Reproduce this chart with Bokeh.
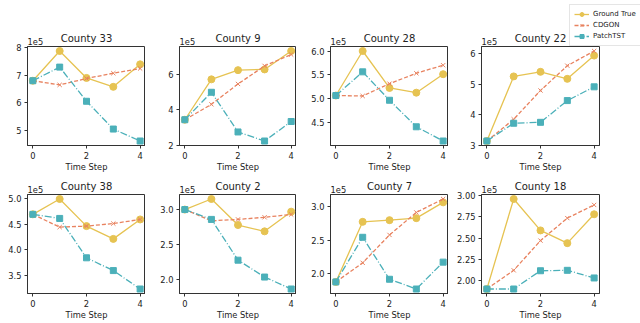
from bokeh.plotting import figure
from bokeh.layouts import gridplot
from bokeh.models import FixedTicker, Range1d, Title, Legend, LegendItem
from bokeh.embed import file_html
from bokeh.resources import INLINE

# ---------------- data ----------------
steps = [0, 1, 2, 3, 4]
counties = ["County 33", "County 9", "County 28", "County 22",
            "County 38", "County 2", "County 7", "County 18"]

gt_33 = [680000, 787000, 690000, 658000, 739000]
cd_33 = [680000, 665000, 688000, 707000, 724000]
pt_33 = [680000, 729000, 606000, 506000, 463000]

gt_9 = [345000, 573000, 625000, 629000, 733000]
cd_9 = [345000, 432000, 547000, 649000, 713000]
pt_9 = [345000, 500000, 276000, 225000, 335000]

gt_28 = [506000, 600000, 522000, 512000, 551000]
cd_28 = [506000, 505000, 531000, 553000, 570000]
pt_28 = [506000, 556000, 496000, 440000, 410000]

gt_22 = [314000, 525000, 540000, 517000, 593000]
cd_22 = [314000, 385000, 479000, 560000, 608000]
pt_22 = [314000, 372000, 375000, 446000, 491000]

gt_38 = [469000, 499000, 446000, 421000, 459000]
cd_38 = [469000, 444000, 446000, 451000, 459000]
pt_38 = [469000, 461000, 384000, 359000, 323000]

gt_2 = [300000, 315000, 278000, 269000, 297000]
cd_2 = [300000, 284000, 286000, 289000, 293000]
pt_2 = [300000, 286000, 228000, 204000, 187000]

gt_7 = [188000, 277500, 280000, 283000, 306500]
cd_7 = [188000, 216500, 258000, 291500, 311500]
pt_7 = [188000, 254500, 192000, 177500, 217500]

gt_18 = [190000, 296000, 259000, 244000, 278000]
cd_18 = [190000, 212000, 247000, 273500, 289000]
pt_18 = [190000, 190000, 211500, 212000, 203000]

ground_true = [gt_33, gt_9, gt_28, gt_22, gt_38, gt_2, gt_7, gt_18]
cdgon = [cd_33, cd_9, cd_28, cd_22, cd_38, cd_2, cd_7, cd_18]
patchtst = [pt_33, pt_9, pt_28, pt_22, pt_38, pt_2, pt_7, pt_18]

x_ticks = [0, 2, 4]
y_tick_values = [
    [500000, 600000, 700000, 800000],
    [200000, 400000, 600000],
    [450000, 500000, 550000, 600000],
    [300000, 400000, 500000, 600000],
    [350000, 400000, 450000, 500000],
    [200000, 250000, 300000],
    [200000, 250000, 300000],
    [200000, 225000, 250000, 275000, 300000],
]
y_tick_labels = [
    ["5", "6", "7", "8"],
    ["2", "4", "6"],
    ["4.5", "5.0", "5.5", "6.0"],
    ["3", "4", "5", "6"],
    ["3.5", "4.0", "4.5", "5.0"],
    ["2.0", "2.5", "3.0"],
    ["2.0", "2.5", "3.0"],
    ["2.00", "2.25", "2.50", "2.75", "3.00"],
]
series_names = ["Ground True", "CDGON", "PatchTST"]
offset_text = "1e5"
x_label = "Time Step"

# ---------------- style ----------------
C_GT = "#E6C352"
C_CD = "#E8825F"
C_PT = "#4BB0B9"
FONT = "DejaVu Sans"
TXT = "#222222"
FS = "8.3px"

left_borders = [27, 34, 34, 33]
frame_widths = [118, 117, 118, 118]
right_borders = [0, 0, 0, 41]

figs = []
for i in range(8):
    r, c = divmod(i, 4)
    allv = ground_true[i] + cdgon[i] + patchtst[i]
    lo, hi = min(allv), max(allv)
    pad = (hi - lo) * 0.05
    y0, y1 = lo - pad, hi + pad
    p = figure(
        output_backend="svg", toolbar_location=None,
        frame_width=frame_widths[c], frame_height=99,
        min_border_left=left_borders[c], min_border_right=right_borders[c],
        min_border_top=46 if r == 0 else 20, min_border_bottom=20,
        x_range=Range1d(-0.2, 4.2), y_range=Range1d(y0, y1),
    )
    p.add_layout(Title(text=offset_text, align="left", standoff=3,
                       text_font=FONT, text_font_size=FS,
                       text_font_style="normal", text_color=TXT), "above")
    p.add_layout(Title(text=counties[i], align="center", standoff=-18,
                       text_font=FONT, text_font_size="10px",
                       text_font_style="normal", text_color=TXT), "above")
    p.grid.visible = False
    p.outline_line_color = "#333333"
    p.outline_line_width = 1
    p.background_fill_color = "white"
    p.border_fill_color = "white"

    for ax in (p.xaxis[0], p.yaxis[0]):
        ax.axis_line_color = "#333333"
        ax.major_tick_line_color = "#333333"
        ax.major_tick_in = 0
        ax.major_tick_out = 3
        ax.minor_tick_line_color = None
        ax.major_label_text_font = FONT
        ax.major_label_text_font_size = FS
        ax.major_label_text_color = TXT
        ax.major_label_standoff = 3
    p.xaxis.ticker = FixedTicker(ticks=x_ticks)
    p.xaxis.axis_label = x_label
    p.xaxis.axis_label_text_font = FONT
    p.xaxis.axis_label_text_font_size = FS
    p.xaxis.axis_label_text_font_style = "normal"
    p.xaxis.axis_label_text_color = TXT
    p.xaxis.axis_label_standoff = 0
    p.yaxis.ticker = FixedTicker(ticks=y_tick_values[i])
    p.yaxis.major_label_overrides = dict(zip(y_tick_values[i], y_tick_labels[i]))

    l1 = p.line(steps, ground_true[i], line_color=C_GT, line_width=1.3)
    s1 = p.scatter(steps, ground_true[i], marker="circle", size=7, fill_color=C_GT,
                   line_color=C_GT)
    l2 = p.line(steps, cdgon[i], line_color=C_CD, line_width=1.3, line_dash="4 2")
    s2 = p.scatter(steps, cdgon[i], marker="x", size=6, line_color=C_CD, line_width=1)
    l3 = p.line(steps, patchtst[i], line_color=C_PT, line_width=1.3,
                line_dash="7 2 1 2")
    s3 = p.scatter(steps, patchtst[i], marker="square", size=6, fill_color=C_PT,
                   line_color=C_PT)

    if i == 3:
        items = [LegendItem(label=series_names[0], renderers=[l1, s1]),
                 LegendItem(label=series_names[1], renderers=[l2, s2]),
                 LegendItem(label=series_names[2], renderers=[l3, s3])]
        lg = Legend(items=items, location=(-30, 99), margin=-15,
                    padding=4, spacing=1, label_height=10, glyph_height=10,
                    glyph_width=15, label_standoff=4,
                    label_text_font=FONT, label_text_font_size="7px",
                    label_text_color=TXT, border_line_color="#cccccc",
                    background_fill_alpha=0.85)
        p.add_layout(lg, "right")
    figs.append(p)

grid = gridplot([figs[:4], figs[4:]], toolbar_location=None)

open("out.html", "w").write(file_html(grid, INLINE))
